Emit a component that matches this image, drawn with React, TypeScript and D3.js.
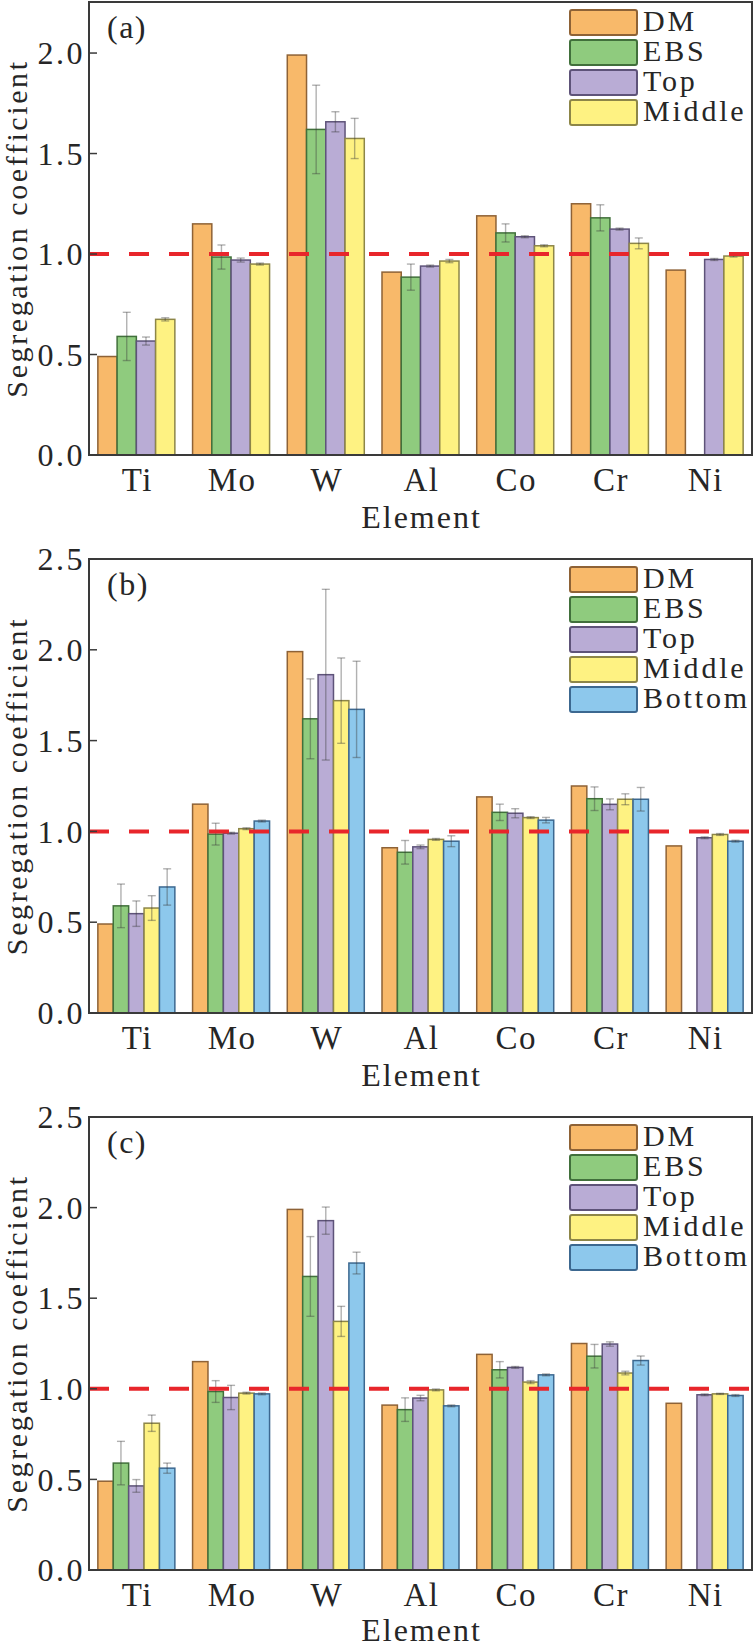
import React from 'react';
import * as d3 from 'd3';

// ---------- data ----------
const elements = ['Ti', 'Mo', 'W', 'Al', 'Co', 'Cr', 'Ni'];
const seriesA = ['DM', 'EBS', 'Top', 'Middle'];
const seriesBC = ['DM', 'EBS', 'Top', 'Middle', 'Bottom'];
const yTicksA = [0, 0.5, 1.0, 1.5, 2.0];
const yTicksBC = [0, 0.5, 1.0, 1.5, 2.0, 2.5];

const dmValues = [0.49, 1.15, 1.99, 0.91, 1.19, 1.25, 0.92];
const dmErrors = [0, 0, 0, 0, 0, 0, 0];
const ebsValues: (number | null)[] = [0.59, 0.985, 1.62, 0.885, 1.105, 1.18, null];
const ebsErrors = [0.12, 0.06, 0.22, 0.065, 0.045, 0.065, 0];

// panel (a)
const topA = [0.567, 0.97, 1.658, 0.94, 1.086, 1.124, 0.973];
const topAErr = [0.02, 0.01, 0.05, 0.005, 0.005, 0.005, 0.005];
const middleA = [0.675, 0.95, 1.575, 0.965, 1.041, 1.053, 0.99];
const middleAErr = [0.008, 0.005, 0.1, 0.008, 0.005, 0.027, 0.005];

// panel (b)
const topB = [0.547, 0.99, 1.863, 0.915, 1.10, 1.149, 0.965];
const topBErr = [0.07, 0.005, 0.47, 0.01, 0.025, 0.03, 0.005];
const middleB = [0.578, 1.015, 1.72, 0.956, 1.076, 1.177, 0.983];
const middleBErr = [0.068, 0.005, 0.235, 0.005, 0.005, 0.03, 0.005];
const bottomB = [0.694, 1.057, 1.672, 0.946, 1.062, 1.177, 0.946];
const bottomBErr = [0.1, 0.005, 0.265, 0.03, 0.015, 0.065, 0.005];

// panel (c)
const topC = [0.464, 0.952, 1.928, 0.949, 1.118, 1.247, 0.967];
const topCErr = [0.035, 0.067, 0.075, 0.015, 0.005, 0.012, 0.005];
const middleC = [0.81, 0.976, 1.372, 0.994, 1.037, 1.087, 0.972];
const middleCErr = [0.045, 0.005, 0.083, 0.005, 0.008, 0.01, 0.003];
const bottomC = [0.562, 0.972, 1.694, 0.906, 1.077, 1.156, 0.963];
const bottomCErr = [0.028, 0.005, 0.06, 0.005, 0.005, 0.025, 0.005];

// ---------- styles ----------
const FILL: Record<string, string> = {
  DM: '#F8B96A',
  EBS: '#8FCB7E',
  Top: '#B9ACD5',
  Middle: '#FEF282',
  Bottom: '#8DC8EC',
};
const STROKE: Record<string, string> = {
  DM: '#8E6236',
  EBS: '#41703B',
  Top: '#5E5379',
  Middle: '#8D8648',
  Bottom: '#3C6890',
};
const FONT = "'Liberation Serif', 'Times New Roman', Times, serif";
const TEXT = '#262626';
const FRAME = '#3a3a3a';

type Panel = {
  label: string;
  top: number;
  bottom: number;
  yMax: number;
  ticks: number[];
  series: string[];
  values: (number | null)[][];
  errors: number[][];
  titleOffset: number;
};

const panels: Panel[] = [
  {
    label: '(a)', top: 2, bottom: 455, yMax: 2.254, ticks: yTicksA, series: seriesA,
    values: [dmValues, ebsValues, topA, middleA],
    errors: [dmErrors, ebsErrors, topAErr, middleAErr],
    titleOffset: 73,
  },
  {
    label: '(b)', top: 559, bottom: 1013, yMax: 2.5, ticks: yTicksBC, series: seriesBC,
    values: [dmValues, ebsValues, topB, middleB, bottomB],
    errors: [dmErrors, ebsErrors, topBErr, middleBErr, bottomBErr],
    titleOffset: 73,
  },
  {
    label: '(c)', top: 1117, bottom: 1570, yMax: 2.5, ticks: yTicksBC, series: seriesBC,
    values: [dmValues, ebsValues, topC, middleC, bottomC],
    errors: [dmErrors, ebsErrors, topCErr, middleCErr, bottomCErr],
    titleOffset: 71,
  },
];

const LEFT = 89;
const RIGHT = 752;

function PanelChart({ p }: { p: Panel }) {
  const x = d3.scaleBand<string>().domain(elements).range([LEFT, RIGHT]).paddingInner(0.187).paddingOuter(0.0935);
  const xi = d3.scaleBand<string>().domain(p.series).range([0, x.bandwidth()]).padding(0);
  const y = d3.scaleLinear().domain([0, p.yMax]).range([p.bottom, p.top]);
  const cy = (p.top + p.bottom) / 2;

  return (
    <g>
      {/* bars */}
      {p.series.map((s, si) =>
        elements.map((el, ei) => {
          const v = p.values[si][ei];
          if (v == null) return null;
          const bx = (x(el) as number) + (xi(s) as number);
          return (
            <rect
              key={`b-${s}-${el}`}
              x={bx}
              y={y(v)}
              width={xi.bandwidth()}
              height={y(0) - y(v)}
              fill={FILL[s]}
              stroke={STROKE[s]}
              strokeWidth={1.5}
            />
          );
        })
      )}
      {/* error bars */}
      {p.series.map((s, si) =>
        elements.map((el, ei) => {
          const v = p.values[si][ei];
          const e = p.errors[si][ei];
          if (v == null || !e) return null;
          const cx = (x(el) as number) + (xi(s) as number) + xi.bandwidth() / 2;
          const y1 = y(v + e);
          const y2 = y(v - e);
          const col = 'rgba(60,60,60,0.4)';
          return (
            <g key={`e-${s}-${el}`} stroke={col} strokeWidth={1.4}>
              <line x1={cx} x2={cx} y1={y1} y2={y2} />
              <line x1={cx - 4} x2={cx + 4} y1={y1} y2={y1} />
              <line x1={cx - 4} x2={cx + 4} y1={y2} y2={y2} />
            </g>
          );
        })
      )}
      {/* reference line */}
      <line x1={LEFT} x2={RIGHT} y1={y(1)} y2={y(1)} stroke="#E8262B" strokeWidth={4} strokeDasharray="20 20" />
      {/* frame */}
      <rect x={LEFT} y={p.top} width={RIGHT - LEFT} height={p.bottom - p.top} fill="none" stroke={FRAME} strokeWidth={2} />
      {/* y ticks */}
      {p.ticks.map((t) => (
        <g key={`t-${t}`}>
          <line x1={LEFT} x2={LEFT + 8} y1={y(t)} y2={y(t)} stroke={FRAME} strokeWidth={1.5} />
          <text x={85} y={y(t)} dy="0.35em" textAnchor="end" fontFamily={FONT} fontSize={32} letterSpacing={2.5} fill={TEXT}>
            {t.toFixed(1)}
          </text>
        </g>
      ))}
      {/* x labels */}
      {elements.map((el) => (
        <text
          key={`x-${el}`}
          x={(x(el) as number) + x.bandwidth() / 2 + 1}
          y={p.bottom + 36}
          textAnchor="middle"
          fontFamily={FONT}
          fontSize={33}
          letterSpacing={1.5}
          fill={TEXT}
        >
          {el}
        </text>
      ))}
      <text x={(LEFT + RIGHT) / 2 + 1} y={p.bottom + p.titleOffset} textAnchor="middle" fontFamily={FONT} fontSize={32} letterSpacing={2} fill={TEXT}>
        Element
      </text>
      {/* y label */}
      <text
        transform={`translate(27,${cy}) rotate(-90)`}
        textAnchor="middle"
        fontFamily={FONT}
        fontSize={30}
        letterSpacing={2.6}
        fill={TEXT}
      >
        Segregation coefficient
      </text>
      {/* panel label */}
      <text x={107} y={p.top + 36} fontFamily={FONT} fontSize={32} letterSpacing={1.5} fill={TEXT}>
        {p.label}
      </text>
      {/* legend */}
      {p.series.map((s, i) => {
        const ly = p.top + 8 + i * 30;
        return (
          <g key={`l-${s}`}>
            <rect x={570} y={ly} width={67} height={25} rx={2} fill={FILL[s]} stroke={STROKE[s]} strokeWidth={2} />
            <text x={643} y={ly + 21} fontFamily={FONT} fontSize={30} letterSpacing={2.8} fill={TEXT}>
              {s}
            </text>
          </g>
        );
      })}
    </g>
  );
}

export default function App() {
  return (
    <svg
      width={755}
      height={1644}
      viewBox="0 0 755 1644"
      style={{ position: 'absolute', left: 0, top: 0, background: '#fff' }}
    >
      <rect x={0} y={0} width={755} height={1644} fill="#fff" />
      {panels.map((p) => (
        <PanelChart key={p.label} p={p} />
      ))}
    </svg>
  );
}
